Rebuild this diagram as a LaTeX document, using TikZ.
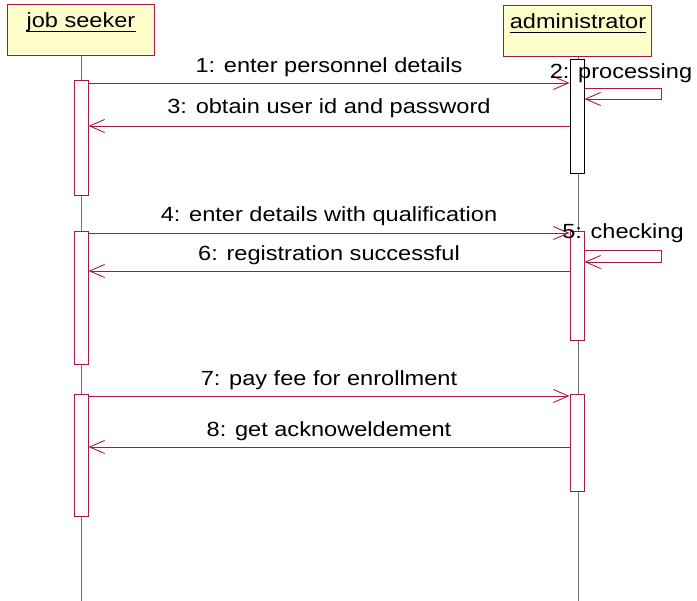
\documentclass[tikz,border=0pt]{standalone}
\usepackage{fontspec}
\setmainfont{Liberation Sans}[FakeStretch=1.15]
\usetikzlibrary{arrows.meta}
\definecolor{crim}{HTML}{A81848}
\definecolor{boxfill}{HTML}{FFFFCC}
\definecolor{lifegray}{HTML}{707070}
\tikzset{
  actorbox/.style={draw=crim, fill=boxfill, line width=1pt, minimum width=147pt, minimum height=51pt, inner sep=0pt},
  actortext/.style={anchor=base, inner sep=0pt, font=\fontsize{20.5}{24}\selectfont},
  lifeline/.style={draw=lifegray, line width=0.9pt},
  actbar/.style={draw=crim, fill=white, line width=1pt, minimum width=14pt, inner sep=0pt},
  msg/.style={draw=crim, line width=0.9pt, -{Straight Barb[length=15pt,width=13pt,line width=0.9pt]}},
  msglabel/.style={anchor=base, inner sep=0pt, font=\fontsize{20.5}{24}\selectfont}
}
\begin{document}
\begin{tikzpicture}[x=1pt,y=-1pt]
\useasboundingbox (0,0) rectangle (697,601);
% actors
\node[actorbox] (js) at (80.5,30.5) {};
\node[actorbox, minimum width=148pt] (ad) at (577,31.5) {};
\node[actortext] (jst) at (81,28) {job seeker};
\node[actortext] (adt) at (578,29) {administrator};
\draw[line width=0.8pt] ([yshift=-3pt]jst.base west) -- ([yshift=-3pt]jst.base east);
\draw[line width=0.8pt] ([yshift=-3pt]adt.base west) -- ([yshift=-3pt]adt.base east);
% lifelines
\coordinate (jsend) at (81,601);
\coordinate (adend) at (578,601);
\draw[lifeline] (js.south -| jsend) -- (jsend);
\draw[lifeline] (ad.south -| adend) -- (adend);
% activation bars
\node[actbar, minimum height=115pt] (jb1) at (81,138.5) {};
\node[actbar, minimum height=133pt] (jb2) at (81,298.5) {};
\node[actbar, minimum height=122pt] (jb3) at (81,456) {};
\node[actbar, draw=black, minimum height=114pt] (ab1) at (577,117) {};
\node[actbar, minimum height=109pt] (ab2) at (577,286.5) {};
\node[actbar, minimum height=97pt] (ab3) at (577,443.5) {};
% message rows
\coordinate (m1) at (0,83);
\coordinate (m2a) at (0,88);
\coordinate (m2b) at (0,99);
\coordinate (m3) at (0,126);
\coordinate (m4) at (0,233);
\coordinate (m5a) at (0,250);
\coordinate (m5b) at (0,262);
\coordinate (m6) at (0,271);
\coordinate (m7) at (0,396);
\coordinate (m8) at (0,447);
\coordinate (selfx) at (661,0);
% messages
\draw[msg] (jb1.east |- m1) -- (ab1.west |- m1);
\draw[msg] (ab1.east |- m2a) -- (selfx |- m2a) -- (selfx |- m2b) -- (ab1.east |- m2b);
\draw[msg] (ab1.west |- m3) -- (jb1.east |- m3);
\draw[msg] (jb2.east |- m4) -- (ab2.west |- m4);
\draw[msg] (ab2.east |- m5a) -- (selfx |- m5a) -- (selfx |- m5b) -- (ab2.east |- m5b);
\draw[msg] (ab2.west |- m6) -- (jb2.east |- m6);
\draw[msg] (jb3.east |- m7) -- (ab3.west |- m7);
\draw[msg] (ab3.west |- m8) -- (jb3.east |- m8);
% labels
\node[msglabel] (l1) at (329,73) {1: enter personnel details};
\node[msglabel] (l2) at (621,79) {2: processing};
\node[msglabel] (l3) at (329,114) {3: obtain user id and password};
\node[msglabel] (l4) at (329,222) {4: enter details with qualification};
\node[msglabel] (l5) at (623,239) {5: checking};
\node[msglabel] (l6) at (329,261) {6: registration successful};
\node[msglabel] (l7) at (329,386) {7: pay fee for enrollment};
\node[msglabel] (l8) at (329,437) {8: get acknoweldement};
\end{tikzpicture}
\end{document}
